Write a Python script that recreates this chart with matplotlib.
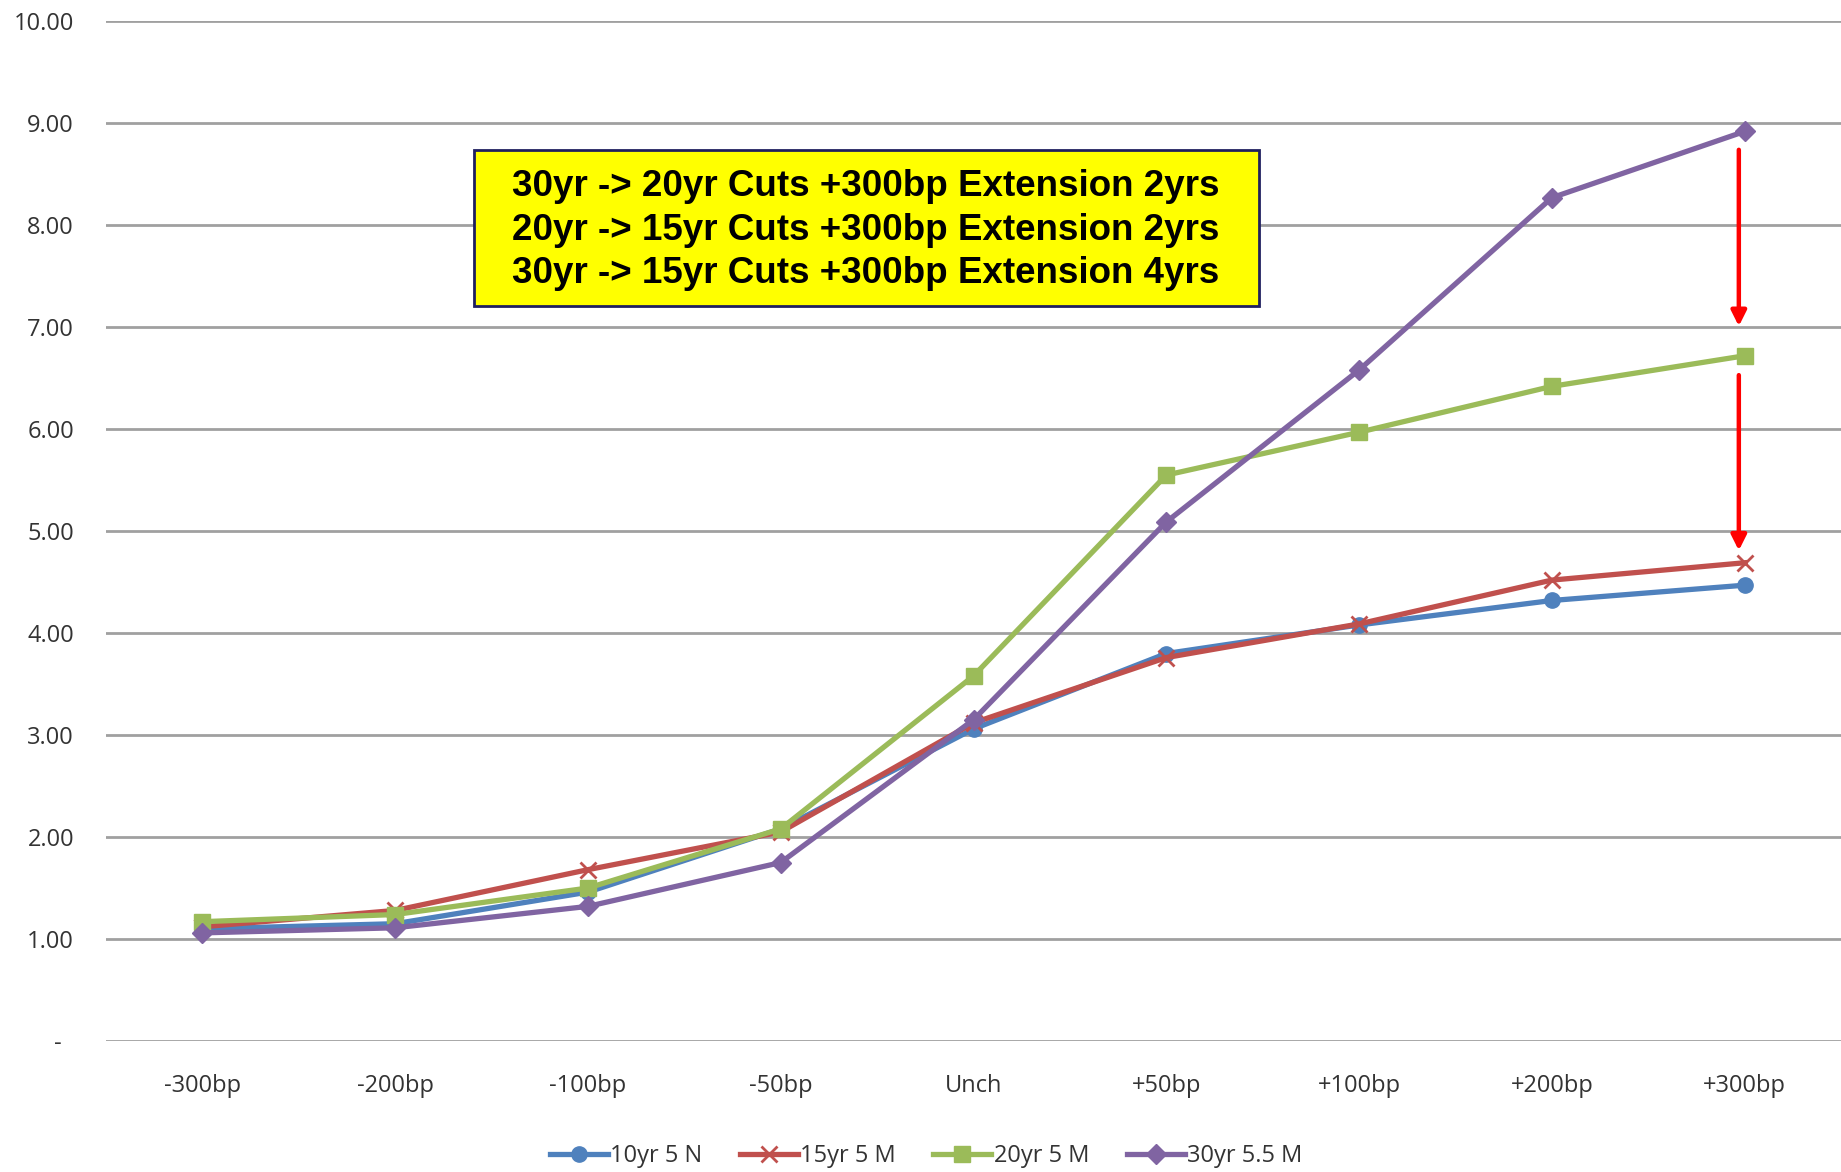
import numpy as np
import matplotlib.pyplot as plt
from matplotlib.patches import Rectangle

# shock scenarios on the x axis
scenarios = ['-300bp', '-200bp', '-100bp', '-50bp', 'Unch',
             '+50bp', '+100bp', '+200bp', '+300bp']

# average life (years) per coupon / term
y10_5n = [1.10, 1.15, 1.46, 2.08, 3.06, 3.80, 4.08, 4.32, 4.47]
y15_5m = [1.12, 1.28, 1.68, 2.05, 3.12, 3.76, 4.09, 4.52, 4.69]
y20_5m = [1.17, 1.24, 1.50, 2.08, 3.58, 5.55, 5.97, 6.42, 6.72]
y30_55m = [1.06, 1.11, 1.32, 1.75, 3.15, 5.09, 6.58, 8.27, 8.92]

yticks = [0, 1, 2, 3, 4, 5, 6, 7, 8, 9, 10]
note = ("30yr -> 20yr Cuts +300bp Extension 2yrs\n"
        "20yr -> 15yr Cuts +300bp Extension 2yrs\n"
        "30yr -> 15yr Cuts +300bp Extension 4yrs")

W, H = 1841, 1172
fig = plt.figure(figsize=(W / 100, H / 100), dpi=100)
ax = fig.add_axes([106 / W, 0.1118, 1 - 106 / W, 0.8700])

x = np.arange(len(scenarios))
series = [
    (y10_5n, '10yr 5 N', '#4F81BD', 'o', 11),
    (y15_5m, '15yr 5 M', '#C0504D', 'x', 11),
    (y20_5m, '20yr 5 M', '#9BBB59', 's', 11),
    (y30_55m, '30yr 5.5 M', '#8064A2', 'D', 10),
]
for vals, lab, col, mk, ms in series:
    ax.plot(x, vals, color=col, lw=3.8, marker=mk, ms=ms,
            mec=col, mfc=col, mew=2 if mk == 'x' else 1, label=lab,
            solid_joinstyle='round', zorder=3)

ax.set_xlim(-0.5, len(scenarios) - 0.5)
ax.set_ylim(0, 10)
ax.set_xticks(x)
ax.set_xticklabels(scenarios, family='Open Sans')
ax.set_yticks(yticks)
# accounting-style zero shown as a dash
ax.set_yticklabels(['-  ' if t == 0 else f'{t:.2f}' for t in yticks],
                   family='Open Sans')
ax.tick_params(length=0, labelsize=17, colors='#333333')
ax.tick_params(axis='y', pad=23)
ax.tick_params(axis='x', pad=24)
ax.grid(axis='y', color='#a0a0a0', lw=2)
ax.set_axisbelow(True)
for s in ax.spines.values():
    s.set_visible(False)

# extension arrows at +300bp
arrow = dict(arrowstyle='-|>,head_length=0.9,head_width=0.45',
             color='red', lw=3.2, shrinkA=0, shrinkB=0)
ax.annotate('', xy=(7.97, 7.01), xytext=(7.97, 8.74), arrowprops=arrow)
ax.annotate('', xy=(7.97, 4.81), xytext=(7.97, 6.53), arrowprops=arrow)

# yellow note box
fig.patches.append(Rectangle((474 / W, 1 - 306 / H), 785 / W, 156 / H,
                             transform=fig.transFigure, fc='#FFFF00',
                             ec='#1F1F5F', lw=2, zorder=5))
fig.text(866 / W, 1 - 230 / H, note, ha='center', va='center',
         fontsize=26.5, fontweight='bold', family='Liberation Sans',
         linespacing=1.33, zorder=6)

fig.legend(loc='center', bbox_to_anchor=(0.503, 1 - 1156 / H), ncol=4,
           frameon=False, prop={'family': 'Open Sans', 'size': 17},
           handlelength=2.45, columnspacing=1.6, handletextpad=0.1,
           labelcolor='#333333')

fig.savefig('out.png', dpi=100)
